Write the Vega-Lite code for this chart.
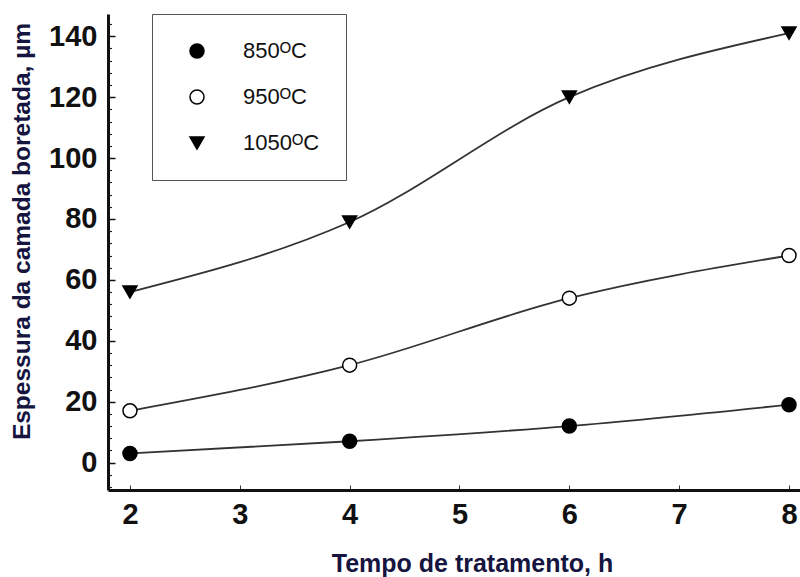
{
  "$schema": "https://vega.github.io/schema/vega-lite/v6.json",
  "width": 692,
  "height": 476,
  "autosize": {"type": "none"},
  "padding": {"left": 108, "top": 14, "right": 0, "bottom": 87},
  "background": "white",
  "config": {
    "view": {"stroke": null},
    "axis": {"grid": false}
  },
  "data": {
    "values": [
      {"serie": "850ᴼC", "tempo": 2, "espessura": 3},
      {"serie": "850ᴼC", "tempo": 4, "espessura": 7},
      {"serie": "850ᴼC", "tempo": 6, "espessura": 12},
      {"serie": "850ᴼC", "tempo": 8, "espessura": 19},
      {"serie": "950ᴼC", "tempo": 2, "espessura": 17},
      {"serie": "950ᴼC", "tempo": 4, "espessura": 32},
      {"serie": "950ᴼC", "tempo": 6, "espessura": 54},
      {"serie": "950ᴼC", "tempo": 8, "espessura": 68},
      {"serie": "1050ᴼC", "tempo": 2, "espessura": 56},
      {"serie": "1050ᴼC", "tempo": 4, "espessura": 79},
      {"serie": "1050ᴼC", "tempo": 6, "espessura": 120},
      {"serie": "1050ᴼC", "tempo": 8, "espessura": 141}
    ]
  },
  "layer": [
    {
      "mark": {"type": "line", "interpolate": "monotone", "color": "#333333", "strokeWidth": 1.8},
      "encoding": {
        "x": {
          "field": "tempo",
          "type": "quantitative",
          "scale": {"domain": [1.8, 8.1], "nice": false, "zero": false},
          "axis": {
            "values": [2, 3, 4, 5, 6, 7, 8],
            "format": "d",
            "title": "Tempo de tratamento, h",
            "titleFont": "Liberation Sans",
            "titleFontSize": 25,
            "titleFontWeight": "bold",
            "titleColor": "#15153f",
            "titleBaseline": "alphabetic",
            "titleY": 81,
            "titleX": 364,
            "labelFont": "Liberation Sans",
            "labelFontSize": 29,
            "labelFontWeight": "bold",
            "labelColor": "#111111",
            "labelPadding": 15,
            "tickSize": -5,
            "tickColor": "#333333",
            "tickWidth": 1,
            "domainColor": "#111111",
            "domainWidth": 3
          }
        },
        "detail": {"field": "serie", "type": "nominal"},
        "y": {
          "field": "espessura",
          "type": "quantitative",
          "scale": {"domain": [-9, 147.3], "nice": false, "zero": false},
          "axis": {
            "values": [0, 20, 40, 60, 80, 100, 120, 140],
            "title": "Espessura da camada boretada, µm",
            "titleFont": "Liberation Sans",
            "titleFontSize": 24.5,
            "titleFontWeight": "bold",
            "titleColor": "#15153f",
            "titleX": -74,
            "titleY": 217,
            "titleBaseline": "bottom",
            "labelFont": "Liberation Sans",
            "labelFontSize": 29,
            "labelFontWeight": "bold",
            "labelColor": "#111111",
            "labelPadding": 18,
            "tickSize": -7,
            "tickColor": "#111111",
            "tickWidth": 1.5,
            "domainColor": "#111111",
            "domainWidth": 3
          }
        }
      }
    },
    {
      "mark": {"type": "point", "size": 196, "stroke": "black", "strokeWidth": 1.5, "opacity": 1, "filled": false},
      "encoding": {
        "x": {"field": "tempo", "type": "quantitative"},
        "y": {
          "field": "espessura",
          "type": "quantitative",
          "axis": {
            "orient": "left",
            "values": [-8, -4, 4, 8, 12, 16, 24, 28, 32, 36, 44, 48, 52, 56, 64, 68, 72, 76, 84, 88, 92, 96, 104, 108, 112, 116, 124, 128, 132, 136, 144],
            "labels": false,
            "domain": false,
            "title": null,
            "tickSize": -3.5,
            "tickColor": "#222222",
            "tickWidth": 1.2
          }
        },
        "fill": {
          "field": "serie",
          "type": "nominal",
          "scale": {"domain": ["850ᴼC", "950ᴼC", "1050ᴼC"], "range": ["black", "white", "black"]},
          "legend": {
            "title": null,
            "orient": "none",
            "legendX": 44,
            "legendY": 0,
            "direction": "vertical",
            "labelFont": "Liberation Sans",
            "labelFontSize": 22,
            "labelColor": "#111111",
            "strokeColor": "#555555",
            "fillColor": "white",
            "padding": 26,
            "symbolOffset": 8,
            "labelOffset": 35,
            "rowPadding": 24,
            "symbolSize": 196,
            "symbolStrokeColor": "black",
            "symbolStrokeWidth": 1.5
          }
        },
        "shape": {
          "field": "serie",
          "type": "nominal",
          "scale": {"domain": ["850ᴼC", "950ᴼC", "1050ᴼC"], "range": ["circle", "circle", "triangle-down"]}
        }
      }
    }
  ],
  "resolve": {"axis": {"y": "independent"}}
}
